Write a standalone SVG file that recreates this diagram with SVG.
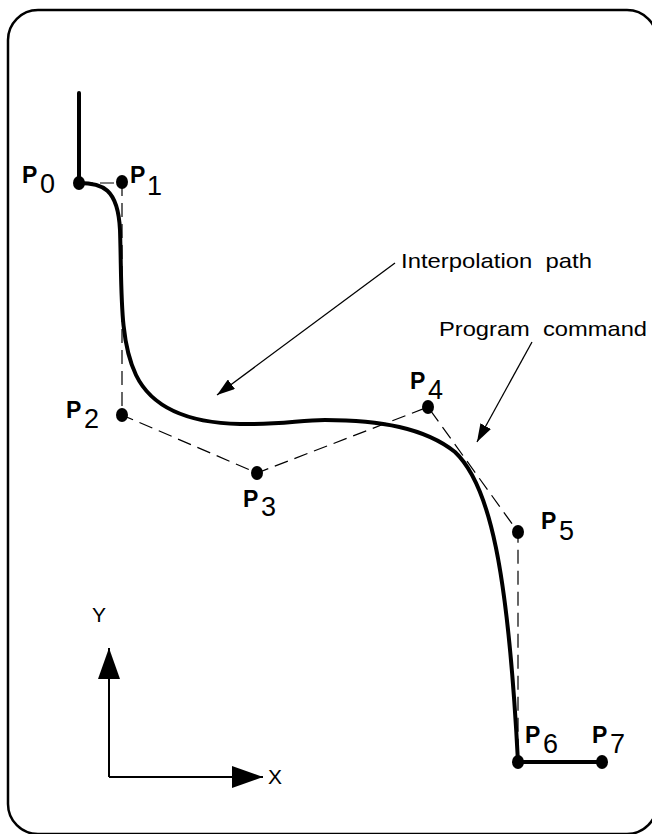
<svg xmlns="http://www.w3.org/2000/svg" width="652" height="834" viewBox="0 0 652 834">
<style>
.frame{fill:none;stroke:#000;stroke-width:2.5}
.dash{fill:none;stroke:#000;stroke-width:1.2;stroke-dasharray:14 7}
.thick{fill:none;stroke:#000;stroke-width:4;stroke-linecap:round;stroke-linejoin:round}
.thin{fill:none;stroke:#000;stroke-width:1.3}
.axis{fill:none;stroke:#000;stroke-width:2}
.dot{fill:#000}
.pb{font-family:"Liberation Sans",Arial,sans-serif;font-weight:bold;font-size:23px;fill:#000}
.sub{font-family:"Liberation Sans",Arial,sans-serif;font-size:27px;fill:#000}
.lbl{font-family:"Liberation Sans",Arial,sans-serif;font-size:21px;fill:#000}
</style>
<defs>
<marker id="ah" markerWidth="18" markerHeight="12" refX="18" refY="6" orient="auto" markerUnits="userSpaceOnUse">
<path d="M0,0 L18,6 L0,12 Z" fill="#000"/>
</marker>
<marker id="ax" markerWidth="31" markerHeight="22" refX="31" refY="11" orient="auto" markerUnits="userSpaceOnUse">
<path d="M0,0 L31,11 L0,22 Z" fill="#000"/>
</marker>
</defs>
<rect class="frame" x="8" y="10" width="649" height="824" rx="30"/>
<g id="controlPolygon">
<path class="dash" d="M79,183 L122,183 L122,415 L257,473 L428,407 L518,532 L518,762"/>
</g>
<g id="interpolationPath">
<path class="thick" d="M79,93 L79,183"/>
<path class="thick" d="M79,183 C102,183 118,188 120,230 C122,290 119,340 136,375 C152,408 190,423 240,424 C280,425 300,420 325,420 C380,420 425,428 455,452 C490,485 508,570 518,762 L602,762"/>
</g>
<g id="points">
<ellipse class="dot" cx="79" cy="183" rx="6" ry="7"/>
<ellipse class="dot" cx="122" cy="182" rx="6" ry="7"/>
<ellipse class="dot" cx="122" cy="415" rx="6" ry="7"/>
<ellipse class="dot" cx="257" cy="473" rx="6" ry="7"/>
<ellipse class="dot" cx="428" cy="407" rx="6" ry="7"/>
<ellipse class="dot" cx="518" cy="532" rx="6" ry="7"/>
<ellipse class="dot" cx="518" cy="762" rx="6" ry="7"/>
<ellipse class="dot" cx="602" cy="762" rx="6" ry="7"/>
</g>
<g id="P0"><text class="pb" x="22" y="183">P</text><text class="sub" x="40" y="193">0</text></g>
<g id="P1"><text class="pb" x="130" y="183">P</text><text class="sub" x="147" y="195">1</text></g>
<g id="P2"><text class="pb" x="66" y="418">P</text><text class="sub" x="84" y="428">2</text></g>
<g id="P3"><text class="pb" x="243" y="507">P</text><text class="sub" x="261" y="516">3</text></g>
<g id="P4"><text class="pb" x="410" y="389">P</text><text class="sub" x="428" y="399">4</text></g>
<g id="P5"><text class="pb" x="541" y="529">P</text><text class="sub" x="559" y="540">5</text></g>
<g id="P6"><text class="pb" x="525" y="743">P</text><text class="sub" x="543" y="753">6</text></g>
<g id="P7"><text class="pb" x="592" y="743">P</text><text class="sub" x="610" y="753">7</text></g>
<g id="connectors">
<line class="thin" x1="395" y1="263" x2="217" y2="395" marker-end="url(#ah)"/>
<line class="thin" x1="532" y1="342" x2="477" y2="442" marker-end="url(#ah)"/>
<line class="axis" x1="109" y1="777" x2="109" y2="648" marker-end="url(#ax)"/>
<line class="axis" x1="109" y1="777" x2="263" y2="777" marker-end="url(#ax)"/>
</g>
<g id="labels">
<text class="lbl" x="401" y="268" xml:space="preserve" textLength="191" lengthAdjust="spacingAndGlyphs">Interpolation  path</text>
<text class="lbl" x="439" y="336" xml:space="preserve" textLength="208" lengthAdjust="spacingAndGlyphs">Program  command</text>
<text class="lbl" x="92" y="622">Y</text>
<text class="lbl" x="268" y="784">X</text>
</g>
</svg>
